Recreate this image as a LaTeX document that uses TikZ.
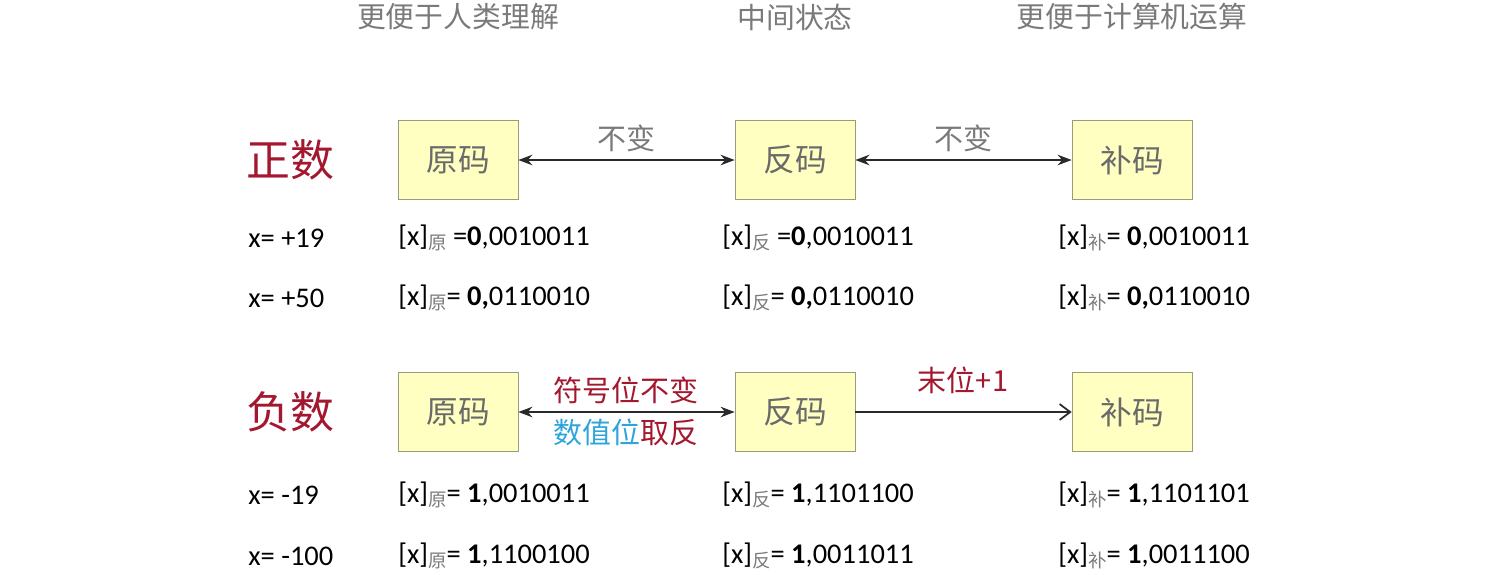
\documentclass[tikz,border=0pt]{standalone}
\usepackage{fontspec}
\setmainfont{Carlito}
\newfontfamily\cjk{Noto Sans CJK SC}
\usepackage{xcolor}
\usepackage{tikz}
\usetikzlibrary{positioning,arrows.meta}
\definecolor{mRed}{HTML}{A3172F}
\definecolor{mBlue}{HTML}{2DA5DA}
\definecolor{mGray}{HTML}{7A7A7A}
\definecolor{mBoxText}{HTML}{6A6A6A}
\definecolor{mBoxFill}{HTML}{FFFFC2}
\definecolor{mBoxLine}{HTML}{9A9A7C}
\definecolor{mLine}{HTML}{2A2A2A}
\newcommand{\xsub}[1]{[x]\raisebox{-0.35ex}{\cjk\fontsize{10.5}{10.5}\selectfont\color{mGray}#1}}
\newcommand{\codebox}[3]{%
 \node[draw=mBoxLine, fill=mBoxFill, minimum width=2.4cm, minimum height=1.58cm, font=\cjk\fontsize{18}{18}\selectfont, text=mBoxText] (#2) at (#1) {#3};}
\tikzset{
 heading/.style={font=\cjk\fontsize{16.4}{16.4}\selectfont, text=mGray},
 sidelabel/.style={font=\cjk\fontsize{25}{25}\selectfont, text=mRed},
 arrowlabel/.style={font=\cjk\fontsize{16.5}{16.5}\selectfont},
 datum/.style={anchor=west, inner sep=0pt, font=\fontsize{16.2}{16.2}\selectfont, text=black},
 both/.style={{Stealth[length=8pt,width=6pt]}-{Stealth[length=8pt,width=6pt]}, mLine, line width=1pt},
}

\begin{document}
\begin{tikzpicture}
\useasboundingbox (0,0) rectangle (29.86,-11.48);
% column headings
\node[heading] (h1) at (9.16,-0.34) {更便于人类理解};
\node[heading] (h2) at (15.9,-0.34) {中间状态};
\node[heading] (h3) at (22.64,-0.34) {更便于计算机运算};
% positive numbers
\node[sidelabel] (pos) at (5.8,-3.2) {正数};
\codebox{9.16,-3.2}{p1}{原码}
\codebox{15.9,-3.2}{p2}{反码}
\codebox{22.64,-3.2}{p3}{补码}
\draw[both] (p1.east) -- node[arrowlabel, text=mGray, above=1pt] (pl1) {不变} (p2.west);
\draw[both] (p2.east) -- node[arrowlabel, text=mGray, above=1pt] (pl2) {不变} (p3.west);
\node[datum] (x1) at (4.96,-4.76) {x= +19};
\node[datum] (a1) at (7.96,-4.76) {\xsub{原} =\textbf{0},0010011};
\node[datum] (b1) at (14.44,-4.76) {\xsub{反} =\textbf{0},0010011};
\node[datum] (c1) at (21.16,-4.76) {\xsub{补}= \textbf{0},0010011};
\node[datum] (x2) at (4.96,-5.96) {x= +50};
\node[datum] (a2) at (7.96,-5.96) {\xsub{原}= \textbf{0,}0110010};
\node[datum] (b2) at (14.44,-5.96) {\xsub{反}= \textbf{0,}0110010};
\node[datum] (c2) at (21.16,-5.96) {\xsub{补}= \textbf{0,}0110010};
% negative numbers
\node[sidelabel] (neg) at (5.8,-8.24) {负数};
\codebox{9.16,-8.24}{n1}{原码}
\codebox{15.9,-8.24}{n2}{反码}
\codebox{22.64,-8.24}{n3}{补码}
\draw[both] (n1.east) -- (n2.west);
\node[arrowlabel, text=mRed] (nl1) at (12.52,-7.8) {符号位不变};
\node[arrowlabel, text=mRed] (nl2) at (12.52,-8.64) {\textcolor{mBlue}{数值位}取反};
\draw[-{Straight Barb[length=6pt,width=9pt]}, mLine, line width=1pt] (n2.east) -- (n3.west);
\node[arrowlabel, text=mRed] (nl3) at (19.26,-7.6) {末位+1};
\node[datum] (x3) at (4.96,-9.9) {x= -19};
\node[datum] (a3) at (7.96,-9.9) {\xsub{原}= \textbf{1},0010011};
\node[datum] (b3) at (14.44,-9.9) {\xsub{反}= \textbf{1},1101100};
\node[datum] (c3) at (21.16,-9.9) {\xsub{补}= \textbf{1},1101101};
\node[datum] (x4) at (4.96,-11.12) {x= -100};
\node[datum] (a4) at (7.96,-11.12) {\xsub{原}= \textbf{1},1100100};
\node[datum] (b4) at (14.44,-11.12) {\xsub{反}= \textbf{1},0011011};
\node[datum] (c4) at (21.16,-11.12) {\xsub{补}= \textbf{1},0011100};
\end{tikzpicture}
\end{document}
